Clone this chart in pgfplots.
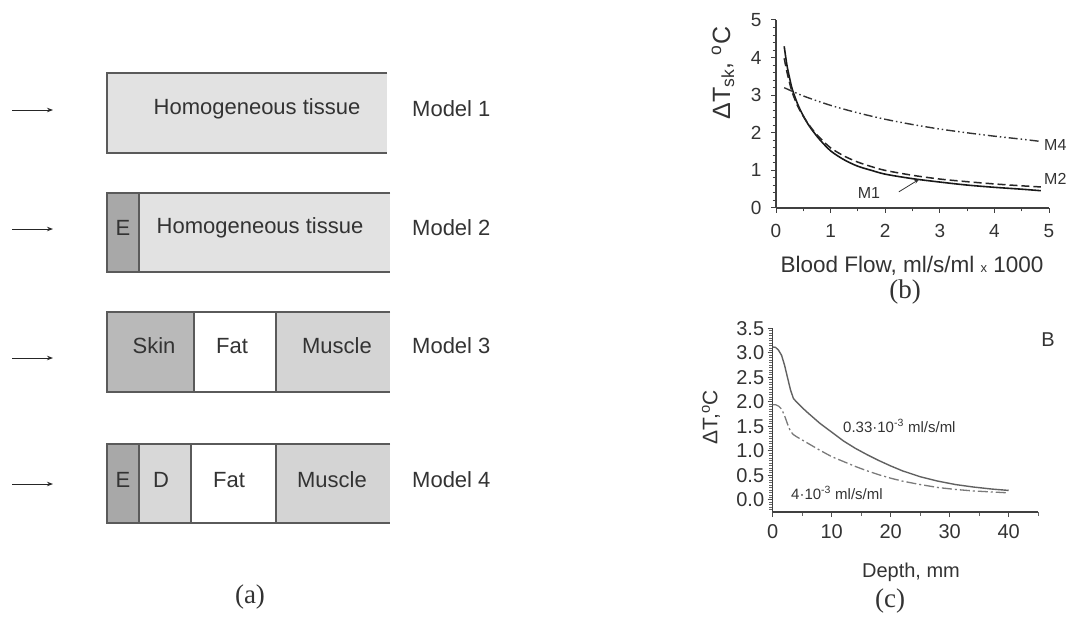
\documentclass[border=0pt]{standalone}
\usepackage{fontspec}
\setmainfont{Liberation Sans}
\newfontfamily\serif{Liberation Serif}
\usepackage{pgfplots}
\pgfplotsset{compat=1.18}
\usetikzlibrary{arrows.meta}
\definecolor{txt}{HTML}{333333}
\definecolor{edge}{HTML}{5A5A5A}
\definecolor{homog}{HTML}{E2E2E2}
\definecolor{epi}{HTML}{A8A8A8}
\definecolor{skin}{HTML}{B9B9B9}
\definecolor{derm}{HTML}{D8D8D8}
\definecolor{musc}{HTML}{D4D4D4}
\newcommand{\fs}[1]{\fontsize{#1}{#1}\selectfont}
\begin{document}
\begin{tikzpicture}[x=1pt,y=1pt]
\path[use as bounding box] (0,0) rectangle (1068,-617);
% ---------- panel (a): schematic in pixel coordinates ----------
\begin{axis}[at={(0pt,0pt)}, anchor=north west, scale only axis,
  width=700pt, height=617pt, xmin=0, xmax=700, ymin=0, ymax=617,
  y dir=reverse, hide axis, clip=false]
% Model 1
\addplot[fill=homog, draw=none] coordinates {(107,73) (387,73) (387,153) (107,153)} --cycle;
\addplot[edge, line width=1.5pt] coordinates {(387,73) (107,73) (107,153) (387,153)};
% Model 2
\addplot[fill=epi, draw=none] coordinates {(107,193) (139,193) (139,272) (107,272)} --cycle;
\addplot[fill=homog, draw=none] coordinates {(139,193) (390,193) (390,272) (139,272)} --cycle;
\addplot[edge, line width=1.5pt] coordinates {(390,193) (107,193) (107,272) (390,272)};
\addplot[edge, line width=1.2pt] coordinates {(139,193) (139,272)};
% Model 3
\addplot[fill=skin, draw=none] coordinates {(107,312) (194,312) (194,392) (107,392)} --cycle;
\addplot[fill=white, draw=none] coordinates {(194,312) (276,312) (276,392) (194,392)} --cycle;
\addplot[fill=musc, draw=none] coordinates {(276,312) (390,312) (390,392) (276,392)} --cycle;
\addplot[edge, line width=1.5pt] coordinates {(390,312) (107,312) (107,392) (390,392)};
\addplot[edge, line width=1.2pt] coordinates {(194,312) (194,392)};
\addplot[edge, line width=1.2pt] coordinates {(276,312) (276,392)};
% Model 4
\addplot[fill=epi, draw=none] coordinates {(107,444) (139,444) (139,523) (107,523)} --cycle;
\addplot[fill=derm, draw=none] coordinates {(139,444) (191,444) (191,523) (139,523)} --cycle;
\addplot[fill=white, draw=none] coordinates {(191,444) (276,444) (276,523) (191,523)} --cycle;
\addplot[fill=musc, draw=none] coordinates {(276,444) (390,444) (390,523) (276,523)} --cycle;
\addplot[edge, line width=1.5pt] coordinates {(390,444) (107,444) (107,523) (390,523)};
\addplot[edge, line width=1.2pt] coordinates {(139,444) (139,523)};
\addplot[edge, line width=1.2pt] coordinates {(191,444) (191,523)};
\addplot[edge, line width=1.2pt] coordinates {(276,444) (276,523)};
% arrows
\addplot[black!85, line width=1pt, -{Stealth[length=6pt,width=4.5pt]}] coordinates {(12,110) (53,110)};
\addplot[black!85, line width=1pt, -{Stealth[length=6pt,width=4.5pt]}] coordinates {(12,229) (53,229)};
\addplot[black!85, line width=1pt, -{Stealth[length=6pt,width=4.5pt]}] coordinates {(12,358) (53,358)};
\addplot[black!85, line width=1pt, -{Stealth[length=6pt,width=4.5pt]}] coordinates {(12,484) (53,484)};
% texts
\begin{scope}[every node/.style={text=txt, font=\fs{22}, inner sep=0pt}]
\node at (axis cs:257,109) {Homogeneous tissue};
\node at (axis cs:123,228) {E};
\node at (axis cs:260,228) {Homogeneous tissue};
\node at (axis cs:154,346) {Skin};
\node at (axis cs:232,346) {Fat};
\node at (axis cs:337,346) {Muscle};
\node at (axis cs:123,480) {E};
\node at (axis cs:161,480) {D};
\node at (axis cs:229,480) {Fat};
\node at (axis cs:332,480) {Muscle};
\node[anchor=west] at (axis cs:412,109) {Model 1};
\node[anchor=west] at (axis cs:412,228) {Model 2};
\node[anchor=west] at (axis cs:412,346) {Model 3};
\node[anchor=west] at (axis cs:412,480) {Model 4};
\end{scope}
\end{axis}
\node[text=txt, font=\serif\fs{27}, inner sep=0pt] at (250,-597) {(a)};
% ---------- panel (b) ----------
\begin{axis}[at={(776pt,-208pt)}, anchor=south west, scale only axis,
  width=273pt, height=188pt, xmin=0, xmax=5, ymin=0, ymax=5,
  axis x line*=bottom, axis y line*=left, tick align=outside,
  xtick={0,1,2,3,4,5}, ytick={0,1,2,3,4,5},
  minor x tick num=1, minor y tick num=4,
  major tick length=5pt, minor tick length=3.5pt,
  every tick/.style={black!75, line width=1pt},
  axis line style={black!75, line width=1.3pt},
  ticklabel style={font=\fs{19}, text=txt},
  xticklabel style={yshift=-8pt},
  yticklabel style={xshift=-6pt},
  /pgf/number format/assume math mode=true, clip=false]
\addplot[black!90, line width=1.6pt, smooth] coordinates {
(0.15,4.3) (0.2,3.8) (0.25,3.45) (0.3,3.15) (0.4,2.75) (0.5,2.45) (0.6,2.2) (0.7,2.0) (0.8,1.82) (1.0,1.52) (1.25,1.28) (1.5,1.11) (1.75,1.0) (2,0.9) (2.5,0.78) (3,0.69) (3.5,0.61) (4,0.55) (4.5,0.5) (4.85,0.46)};
\addplot[black!85, line width=1.5pt, smooth, dash pattern=on 8pt off 4pt] coordinates {
(0.15,3.98) (0.2,3.62) (0.25,3.32) (0.3,3.06) (0.4,2.7) (0.5,2.44) (0.6,2.22) (0.7,2.03) (0.8,1.87) (1.0,1.6) (1.25,1.38) (1.5,1.22) (1.75,1.1) (2,1.0) (2.5,0.87) (3,0.77) (3.5,0.7) (4,0.64) (4.5,0.59) (4.85,0.56)};
\addplot[black!80, line width=1.4pt, smooth, dash pattern=on 9pt off 3pt on 1.5pt off 3pt on 1.5pt off 3pt] coordinates {
(0.15,3.2) (0.5,2.98) (1,2.73) (1.5,2.53) (2,2.36) (2.5,2.22) (3,2.1) (3.5,2.0) (4,1.91) (4.5,1.83) (4.85,1.77)};
\draw[black!80, line width=0.8pt, -{Stealth[length=5pt,width=3.5pt]}] (axis cs:2.25,0.43) -- (axis cs:2.62,0.76);
\end{axis}
\begin{scope}[every node/.style={text=txt, inner sep=0pt}]
\node[font=\fs{16}, anchor=west] at (1044,-145) {M4};
\node[font=\fs{16}, anchor=west] at (1044,-179) {M2};
\node[font=\fs{16}] at (869,-193) {M1};
\node[font=\fs{25}, rotate=90] at (723,-73) {ΔT\textsubscript{sk}, \textsuperscript{o}C};
\node[font=\fs{22.5}] at (912,-266) {Blood Flow, ml/s/ml {\fs{13}x} 1000};
\node[font=\serif\fs{27}] at (905,-292) {(b)};
\end{scope}
% ---------- panel (c) ----------
\begin{axis}[at={(772.7pt,-512pt)}, anchor=south west, scale only axis,
  width=265.5pt, height=183.7pt, xmin=0, xmax=45, ymin=-0.25, ymax=3.5,
  axis x line*=bottom, axis y line*=left, tick align=outside,
  xtick={0,10,20,30,40}, minor xtick={5,15,25,35,45},
  ytick={0,0.5,1,1.5,2,2.5,3,3.5},
  minor ytick={-0.2,-0.15,-0.1,-0.05,0.05,0.1,0.15,0.2,0.25,0.3,0.35,0.4,0.45,0.55,0.6,0.65,0.7,0.75,0.8,0.85,0.9,0.95,1.05,1.1,1.15,1.2,1.25,1.3,1.35,1.4,1.45,1.55,1.6,1.65,1.7,1.75,1.8,1.85,1.9,1.95,2.05,2.1,2.15,2.2,2.25,2.3,2.35,2.4,2.45,2.55,2.6,2.65,2.7,2.75,2.8,2.85,2.9,2.95,3.05,3.1,3.15,3.2,3.25,3.3,3.35,3.4,3.45},
  yticklabel style={/pgf/number format/.cd, fixed, fixed zerofill, precision=1},
  major tick length=5pt, minor tick length=3.5pt,
  every tick/.style={black!70, line width=0.9pt},
  every minor tick/.style={black!60, line width=0.7pt},
  axis line style={black!75, line width=1.2pt},
  ticklabel style={font=\fs{20}, text=txt},
  xticklabel style={yshift=-4pt},
  /pgf/number format/assume math mode=true, clip=false]
\addplot[black!62, line width=1.4pt] coordinates {
(0,3.12) (0.5,3.11) (1,3.05) (1.5,2.95) (2,2.75) (2.5,2.5) (3,2.25) (3.5,2.07) (4,2.0) (5,1.88) (6,1.77) (8,1.56) (10,1.38) (12,1.2) (14,1.05) (16,0.92) (18,0.8) (20,0.69) (22,0.59) (25,0.47) (28,0.38) (31,0.31) (34,0.26) (37,0.22) (40,0.19)};
\addplot[black!52, line width=1.3pt, dash pattern=on 10pt off 3pt on 2pt off 3pt] coordinates {
(0,1.94) (0.5,1.94) (1,1.91) (1.5,1.85) (2,1.72) (2.5,1.55) (3,1.4) (3.5,1.33) (4,1.29) (5,1.22) (6,1.15) (8,1.01) (10,0.88) (12,0.78) (14,0.68) (16,0.59) (18,0.51) (20,0.44) (22,0.38) (25,0.31) (28,0.25) (31,0.21) (34,0.18) (37,0.16) (40,0.14)};
\end{axis}
\begin{scope}[every node/.style={text=txt, inner sep=0pt}]
\node[font=\fs{15}, anchor=west] at (843,-426) {0.33·10\textsuperscript{-3} ml/s/ml};
\node[font=\fs{15}, anchor=west] at (791,-493) {4·10\textsuperscript{-3} ml/s/ml};
\node[font=\fs{20}] at (1048,-340) {B};
\node[font=\fs{21}, rotate=90] at (711,-417) {ΔT,\textsuperscript{o}C};
\node[font=\fs{20}] at (911,-572) {Depth, mm};
\node[font=\serif\fs{27}] at (890,-601) {(c)};
\end{scope}
\end{tikzpicture}
\end{document}
